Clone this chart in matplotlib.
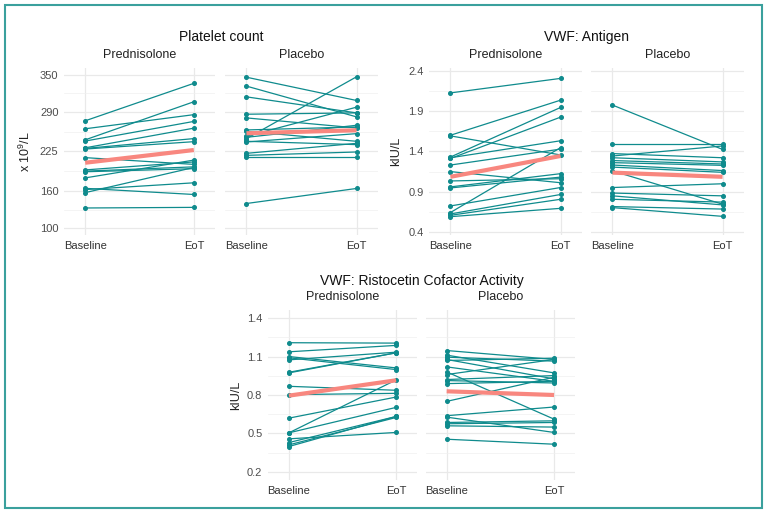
import matplotlib
matplotlib.use('Agg')
import matplotlib.pyplot as plt
from matplotlib.patches import Rectangle

plt.rcParams['font.family'] = ['Liberation Sans', 'DejaVu Sans']
plt.rcParams['mathtext.default'] = 'regular'

groups = ['Baseline', 'EoT']

# Platelet count (x 10^9/L)
plt_pred_base = [275, 262, 244, 242, 231, 230, 229, 215, 195, 193, 192, 182, 165, 163, 158, 133]
plt_pred_eot = [336, 285, 306, 274, 263, 246, 241, 204, 208, 200, 197, 211, 155, 174, 199, 134]
plt_pred_mean = [206.7, 227.4]
plt_plac_base = [346, 331.5, 314, 285.7, 279.7, 260.1, 258, 249.8, 248.1, 246, 241.6, 240.5, 222, 218.7, 216, 140.3]
plt_plac_eot = [308.1, 281.4, 287.9, 287.9, 263.4, 265, 241.6, 297.2, 267.7, 346.7, 236.2, 254.1, 238.3, 224.2, 216, 164.8]
plt_plac_mean = [254.7, 259.6]

# VWF: Antigen (kIU/L)
ag_pred_base = [2.132, 1.603, 1.595, 1.331, 1.322, 1.313, 1.231, 1.149, 1.032, 0.958, 0.945, 0.72, 0.638, 0.62, 0.603, 0.586]
ag_pred_eot = [2.313, 2.041, 1.357, 1.95, 1.534, 1.829, 1.43, 1.01, 1.06, 1.123, 1.08, 0.95, 1.448, 0.863, 0.803, 0.69]
ag_pred_mean = [1.084, 1.344]
ag_plac_base = [1.98, 1.495, 1.374, 1.344, 1.322, 1.287, 1.261, 1.231, 1.205, 1.158, 0.95, 0.881, 0.846, 0.803, 0.712, 0.699]
ag_plac_eot = [1.426, 1.495, 1.322, 1.469, 1.27, 1.244, 1.227, 1.162, 1.14, 0.742, 0.997, 0.846, 0.733, 0.768, 0.681, 0.59]
ag_plac_mean = [1.136, 1.084]

# VWF: Ristocetin Cofactor Activity (kIU/L)
rco_pred_base = [1.209, 1.138, 1.101, 1.091, 1.075, 0.978, 0.973, 0.868, 0.803, 0.619, 0.504, 0.504, 0.457, 0.428, 0.41, 0.397]
rco_pred_eot = [1.206, 1.188, 1.012, 0.999, 1.135, 1.13, 1.13, 0.837, 0.813, 0.784, 0.918, 0.703, 0.507, 0.632, 0.624, 0.632]
rco_pred_mean = [0.795, 0.915]
rco_plac_base = [1.148, 1.112, 1.096, 1.078, 1.07, 1.02, 0.981, 0.96, 0.921, 0.913, 0.889, 0.75, 0.638, 0.627, 0.585, 0.575, 0.559, 0.454]
rco_plac_eot = [1.078, 0.973, 1.065, 0.926, 1.088, 0.907, 0.611, 1.078, 0.952, 0.894, 0.907, 0.939, 0.706, 0.507, 0.598, 0.585, 0.549, 0.415]
rco_plac_mean = [0.829, 0.8]

plt_ticks = [100, 160, 225, 290, 350]
ag_ticks = [0.4, 0.9, 1.4, 1.9, 2.4]
rco_ticks = [0.2, 0.5, 0.8, 1.1, 1.4]

TEAL = '#0f8b8d'
SALMON = '#f8877f'
W, H = 768, 516

fig = plt.figure(figsize=(W / 100, H / 100), dpi=100)
fig.patches.append(Rectangle((5 / W, 1 - 508 / H), 757 / W, 503 / H, transform=fig.transFigure,
                             fill=False, edgecolor='#3aa09d', linewidth=1.5))


def panel(box, base, eot, mean, ticks, ylim, strip, ylabel=None, lab_x=-0.2):
    x0, y0, x1, y1 = box
    ax = fig.add_axes([x0 / W, 1 - y1 / H, (x1 - x0) / W, (y1 - y0) / H])
    for b, e in zip(base, eot):
        ax.plot([0, 1], [b, e], color=TEAL, lw=0.9, marker='o', ms=2.6, zorder=2)
    ax.plot([0, 1], mean, color=SALMON, lw=3, solid_capstyle='butt', zorder=3)
    ax.set_xlim(-0.195, 1.195)
    ax.set_ylim(*ylim)
    ax.set_xticks([0, 1])
    ax.set_xticklabels(groups)
    ax.set_yticks(ticks)
    ax.set_yticks([(a + b) / 2 for a, b in zip(ticks[:-1], ticks[1:])], minor=True)
    ax.grid(True, which='major', color='#e9e9e9', lw=0.9)
    ax.grid(True, which='minor', axis='y', color='#f0f0f0', lw=0.5)
    ax.set_axisbelow(True)
    for s in ax.spines.values():
        s.set_visible(False)
    ax.tick_params(which='both', length=0, labelsize=8, colors='#4d4d4d', pad=4)
    ax.tick_params(axis='x', labelcolor='#333333')
    if ylabel:
        ax.set_ylabel(ylabel, fontsize=9, color='#222222')
        ax.yaxis.set_label_coords(lab_x, 0.5)
        ax.set_yticklabels([('%g' % t) if t >= 100 else ('%.1f' % t) for t in ticks])
    else:
        ax.set_yticklabels([])
    ax.text(0.5, 1 + 12.5 / (y1 - y0), strip, transform=ax.transAxes,
            ha='center', va='center', fontsize=9, color='#222222')
    return ax


panel((64, 68, 215, 235), plt_pred_base, plt_pred_eot, plt_pred_mean, plt_ticks, (89, 361),
      'Prednisolone', 'x 10$^{9}$/L', (33 - 64) / 151)
panel((225, 68, 378, 235), plt_plac_base, plt_plac_eot, plt_plac_mean, plt_ticks, (89, 361), 'Placebo')
panel((429, 68, 582, 235), ag_pred_base, ag_pred_eot, ag_pred_mean, ag_ticks, (0.357, 2.443),
      'Prednisolone', 'kIU/L', (401.7 - 429) / 153)
panel((591, 68, 744, 235), ag_plac_base, ag_plac_eot, ag_plac_mean, ag_ticks, (0.357, 2.443), 'Placebo')
panel((268, 310, 417, 480), rco_pred_base, rco_pred_eot, rco_pred_mean, rco_ticks, (0.135, 1.465),
      'Prednisolone', 'kIU/L', (241.7 - 268) / 149)
panel((425.7, 310, 575, 480), rco_plac_base, rco_plac_eot, rco_plac_mean, rco_ticks, (0.135, 1.465), 'Placebo')

fig.text(221 / W, 1 - 37 / H, 'Platelet count', ha='center', va='center', fontsize=10, color='#111111')
fig.text(586 / W, 1 - 37 / H, 'VWF: Antigen', ha='center', va='center', fontsize=10, color='#111111')
fig.text(421.5 / W, 1 - 281 / H, 'VWF: Ristocetin Cofactor Activity', ha='center', va='center',
         fontsize=10, color='#111111')

fig.savefig('out.png', dpi=100)
